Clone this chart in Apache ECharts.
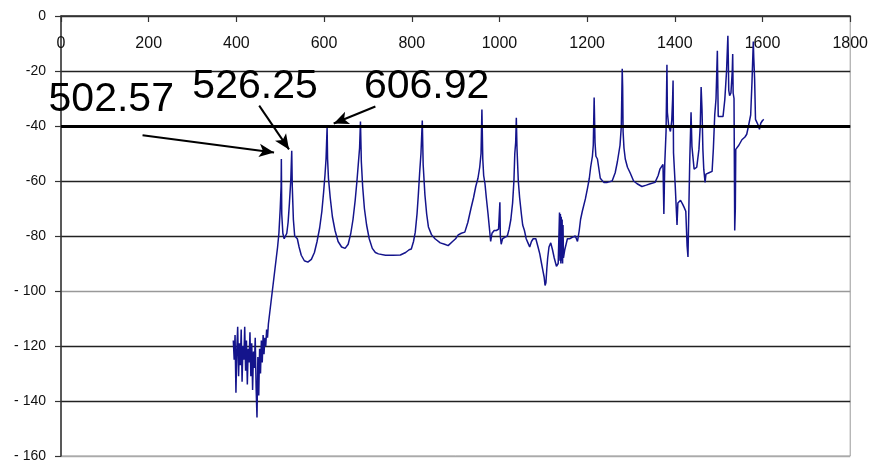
<!DOCTYPE html>
<html><head><meta charset="utf-8">
<script src="https://cdn.jsdelivr.net/npm/echarts@6/dist/echarts.min.js"></script>
<style>html,body{margin:0;padding:0;background:#fff}#c{width:871px;height:463px}</style>
</head><body><div id="c"></div>
<script>
// X axis (top) and Y axis ranges
const xMin = 0, xMax = 1800, xStep = 200;
const yMin = -160, yMax = 0, yStep = 20;
const refLevel = -40;

// Spectrum: frequency and amplitude
const freq = [393,395,397,399,401,403,405,407,409,411,413,415,417,419,421,423,425,427,429,431,433,435,437,439,441,443,445,447,449,451,453,455,457,459,461,463,465,467,469,471,473,
476,479,482,485,488,491,494,497,500,502,502.57,503.5,506,509,512,515,518,521,524,526.25,527.5,530,533,536,539,543,548,555,563,571,578,584,590,595,599,602,604.5,606.92,608,610,614,619,625,632,640,648,655,661,666,671,675,678,681,683,685,688,692,697,703,710,717,724,740,757,774,786,794,799,804,808,812,815,818,821,824,826,830,834,838,845,853,865,875,883,893,900,906,913,921,928,935,941,946,951,955,958,960,962,964,967,970,974,977,980,983,988,993,998,1001,1002,1004,1007,1012,1018,1022,1026,1030,1033,1035,1037,1038.5,1040,1043,1046,1050,1053,1057,1061,1065,1069,1073,1077,1083,1088,1092,1096,1099,1102,1104,1106,1108,1110,1113,1117,1121,1125,1130,1134,1137,1138,1139,1140,1141,1142,1143,1144,1145,1146,1149,1155,1160,1166,1173,1178,1182,1185,1189,1196,1201,1205,1208,1212,1214,1216,1218,1220,1223.5,1230,1238,1246,1257,1264,1269,1275,1278,1280,1281,1282,1284,1287,1292,1298,1306,1314,1325,1335,1344,1355,1362,1366,1373,1375,1377,1380,1382,1383,1386,1390,1393,1395,1396,1397,1401,1403,1405,1407,1410,1413,1418,1421,1425,1428,1430,1432,1434,1437,1439,1444,1450,1455,1458,1460,1462,1464,1466,1469,1471,1478,1485,1488,1491,1494,1497,1499,1510,1514,1518,1521,1522,1523,1525,1528,1531,1532,1533,1535,1536.6,1538,1539,1546,1553,1560,1564,1568,1573,1576,1579,1580,1582,1584,1587,1591,1593,1596,1600,1603];
const amp = [-118,-125,-116,-137,-121,-113,-131,-119,-127,-114,-133,-120,-125,-113,-129,-118,-134,-121,-126,-115,-131,-119,-136,-122,-128,-117,-135,-146,-124,-138,-121,-130,-118,-126,-116,-123,-117,-120,-114,-117,-112,
-108,-104,-100,-96,-92,-88,-84,-79,-70,-62,-52,-72,-79,-81,-81,-79,-75,-68,-60,-49,-62,-74,-80,-80,-81,-84,-87,-89,-89.5,-88.5,-86,-82,-77,-71,-64,-58,-52,-40.5,-52,-59,-66,-73,-78,-82,-84,-84.5,-83,-79,-74,-67,-60,-54,-48,-38.4,-53,-62,-70,-76,-81,-84.5,-86,-86.5,-87,-87,-86.9,-86,-85,-84.7,-82,-78.6,-72,-65,-57,-50,-38,-54,-65,-72,-76.7,-79.5,-81,-82.5,-83,-83.5,-82,-81,-79.6,-79,-78.6,-75,-70,-66,-62,-59,-55,-50,-34,-52,-58,-61,-66,-72,-77,-82,-79,-78,-78,-77.5,-67.7,-80,-83,-81,-80.5,-80,-77.5,-74,-68,-60,-50,-46,-37,-48,-60,-66,-72,-76,-78,-81,-82.5,-84,-82,-81,-81,-84,-86.5,-90,-92.5,-95,-98,-97,-92,-88,-84,-82.5,-85,-88,-91,-90,-71.5,-89,-72,-90,-73,-89,-74,-90,-76,-88,-85,-81,-81,-80.5,-80,-82,-78,-74,-71,-66.5,-62.5,-59,-55,-51,-47,-29.6,-46,-51,-52,-59,-60.5,-60.5,-60,-57,-53,-47,-40,-19.2,-25.7,-42,-48,-52,-55,-57,-60,-61,-62,-61.5,-61,-60.5,-58,-55.7,-54,-72,-54,-42,-17.7,-35,-40,-42,-38,-30,-23.5,-49.7,-62,-69,-76,-68,-67.7,-67,-68.5,-69.5,-71,-83.6,-87.6,-70,-53,-35,-47.4,-55.7,-55,-48.5,-40,-25.8,-34,-48.5,-55.7,-60.5,-57.5,-57,-56.5,-48,-36,-30,-12.6,-36.5,-36.5,-30.4,-20,-7.2,-16,-27,-29,-28,-20,-13.8,-28,-30,-78,-70,-48.5,-47,-45,-44,-43,-40,-36,-24,-9.3,-15,-23,-37.6,-38.3,-40,-41.2,-39,-38,-37.6];

// Annotations (data coordinates)
const annLabels = ['502.57', '526.25', '606.92'];
const annTextX = [114.6, 442.6, 834];
const annTextY = [-30.4, -25.7, -25.7];
const arrowFromX = [186, 452, 717];
const arrowFromY = [-43.4, -32.6, -32.9];
const arrowToX = [486, 520, 622];
const arrowToY = [-49.6, -48.5, -39.1];

const FONT = '"Liberation Sans", Arial, sans-serif';
const chart = echarts.init(document.getElementById('c'), null, {renderer: 'canvas'});

const spectrum = freq.map((f, i) => [f, amp[i]]);
const annPoints = annLabels.map((t, i) => [annTextX[i], annTextY[i], t]);
const arrows = annLabels.map((t, i) => [
  {coord: [arrowFromX[i], arrowFromY[i]], symbol: 'none'},
  {coord: [arrowToX[i], arrowToY[i]], symbol: 'arrow', symbolSize: [10, 15]}
]);

chart.setOption({
  animation: false,
  backgroundColor: '#fff',
  grid: {left: 61, right: 17, top: 16, bottom: 5, show: true, borderColor: '#999', borderWidth: 1, backgroundColor: '#fff'},
  xAxis: {
    type: 'value', position: 'top', min: xMin, max: xMax, interval: xStep,
    axisLine: {show: true, onZero: false, lineStyle: {color: '#333', width: 1.5}},
    axisTick: {show: true, inside: true, length: 6, lineStyle: {color: '#333', width: 1.2}},
    axisLabel: {inside: true, margin: 20, fontSize: 16, color: '#111', fontFamily: FONT, formatter: v => String(v)},
    splitLine: {show: false}
  },
  yAxis: {
    type: 'value', min: yMin, max: yMax, interval: yStep,
    axisLine: {show: true, onZero: false, lineStyle: {color: '#333', width: 1.5}},
    axisTick: {show: true, inside: false, length: 6, lineStyle: {color: '#333', width: 1.2}},
    axisLabel: {margin: 15, fontSize: 14, color: '#111', fontFamily: FONT,
      formatter: v => v <= -100 ? '- ' + Math.abs(v) : String(v)},
    splitLine: {show: true, lineStyle: {color: ['#aaa', '#222', '#222', '#999', '#222', '#222', '#222', '#222', '#333'], width: 1.4}}
  },
  series: [
    {
      type: 'line', data: spectrum, showSymbol: false, symbol: 'none', silent: true,
      lineStyle: {color: '#14148c', width: 1.5},
      z: 3,
      markLine: {
        silent: true, animation: false, symbol: ['none', 'none'],
        label: {show: false},
        lineStyle: {color: '#000', width: 3, type: 'solid'},
        data: [{yAxis: refLevel}]
      }
    },
    {
      type: 'scatter', data: annPoints, symbolSize: 0, silent: true, z: 5,
      itemStyle: {color: '#000', opacity: 1},
      label: {show: true, position: 'inside', formatter: p => p.data[2], fontSize: 41,
        color: '#000', textBorderWidth: 0, fontFamily: FONT},
      markLine: {
        silent: true, animation: false, symbol: ['none', 'arrow'],
        label: {show: false},
        lineStyle: {color: '#000', width: 2, type: 'solid'},
        data: arrows
      }
    }
  ]
});
</script>
</body></html>
